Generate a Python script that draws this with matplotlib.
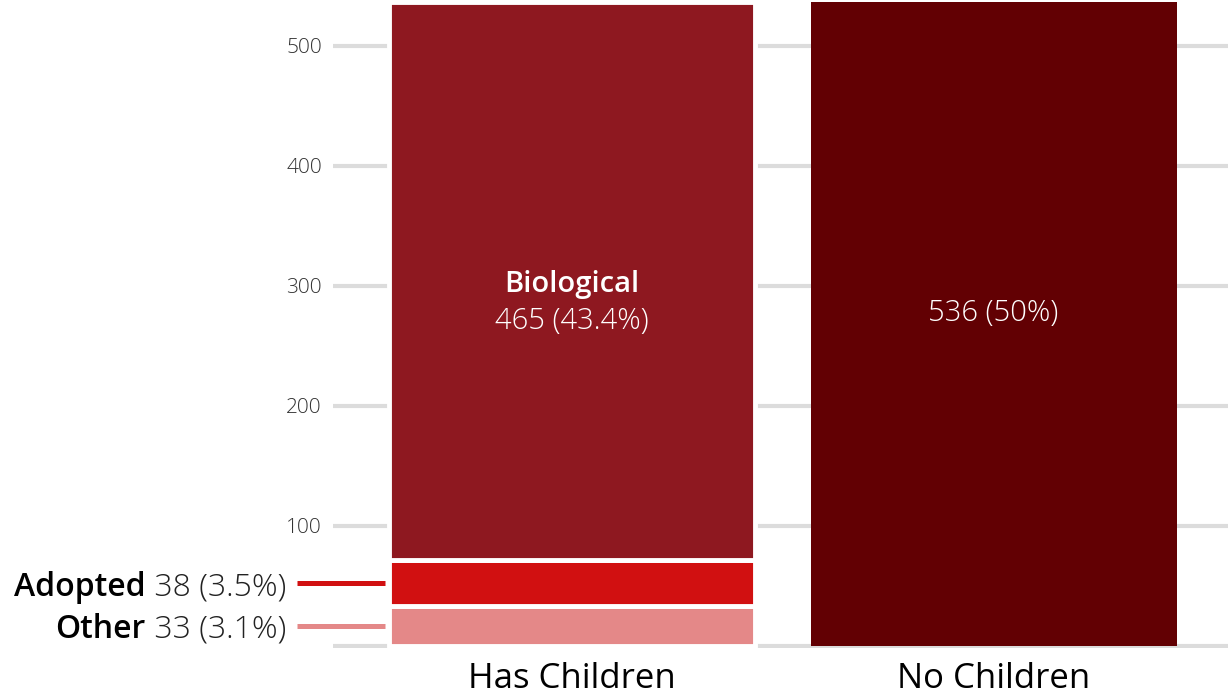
import matplotlib
matplotlib.use("Agg")
import matplotlib.pyplot as plt
import matplotlib.transforms as mtransforms
from matplotlib.lines import Line2D

plt.rcParams['font.family'] = ['Open Sans', 'DejaVu Sans']

# children data
groups = ["Has Children", "No Children"]
segments = ["Other", "Adopted", "Biological"]
seg_values = [33, 38, 465]
seg_pcts = ["3.1%", "3.5%", "43.4%"]
seg_colors = ["#e48888", "#d11011", "#8e1820"]
none_value = 536
none_pct = "50%"
none_color = "#620003"
yticks = [0, 100, 200, 300, 400, 500]
ytick_labels = ["", "100", "200", "300", "400", "500"]

fig = plt.figure(figsize=(12.28, 6.97), dpi=100)
W, H = 1228, 697
ax = fig.add_axes([333 / W, 49 / H, (W - 333) / W, 648 / H])

bar_w = 0.868
bottom = 0
for name, val, col in zip(segments, seg_values, seg_colors):
    ax.bar(0, val, bottom=bottom, width=bar_w, color=col,
           edgecolor="white", linewidth=3.5, zorder=3)
    bottom += val
ax.bar(1, none_value, width=bar_w, color=none_color, linewidth=0, zorder=3)

ax.set_xlim(-0.567, 1.556)
ax.set_ylim(-2, 538)

ax.set_yticks(yticks)
ax.set_yticklabels(ytick_labels)
ax.yaxis.grid(True, color="#dcdcdc", linewidth=3, zorder=0)
ax.tick_params(axis="y", length=0, pad=8, labelsize=15, labelcolor="#333333")
for lbl in ax.get_yticklabels():
    lbl.set_fontweight("light")
ax.set_xticks([0, 1])
ax.set_xticklabels(groups, fontsize=25, fontweight="medium", color="black")
ax.tick_params(axis="x", length=0, pad=10)
for s in ax.spines.values():
    s.set_visible(False)

# labels inside the big bars
ax.text(0, 301, segments[2], ha="center", va="center", color="white",
        fontsize=21, fontweight="semibold", zorder=4)
ax.text(0, 270, f"{seg_values[2]} ({seg_pcts[2]})", ha="center", va="center",
        color="white", fontsize=21, fontweight="light", zorder=4)
ax.text(1, 277, f"{none_value} ({none_pct})", ha="center", va="center",
        color="white", fontsize=21, fontweight="light", zorder=4)

# callouts for the small segments
trans = mtransforms.blended_transform_factory(fig.transFigure, ax.transData)
fig.canvas.draw()
renderer = fig.canvas.get_renderer()
bottom = 0
for i in range(2):
    mid = bottom + seg_values[i] / 2
    bottom += seg_values[i]
    ax.add_line(Line2D([297 / W, 385 / W], [mid, mid], transform=trans,
                       color=seg_colors[i], linewidth=3.6, clip_on=False,
                       solid_capstyle="butt"))
    num = ax.text(286 / W, mid, f" {seg_values[i]} ({seg_pcts[i]})", transform=trans,
                  ha="right", va="center_baseline", fontsize=23, fontweight="light",
                  color="#222222", clip_on=False)
    x0 = num.get_window_extent(renderer).x0
    ax.text(x0 / W, mid, segments[i], transform=trans,
            ha="right", va="center_baseline", fontsize=23, fontweight="semibold",
            color="black", clip_on=False)

fig.savefig("out.png", dpi=100)
